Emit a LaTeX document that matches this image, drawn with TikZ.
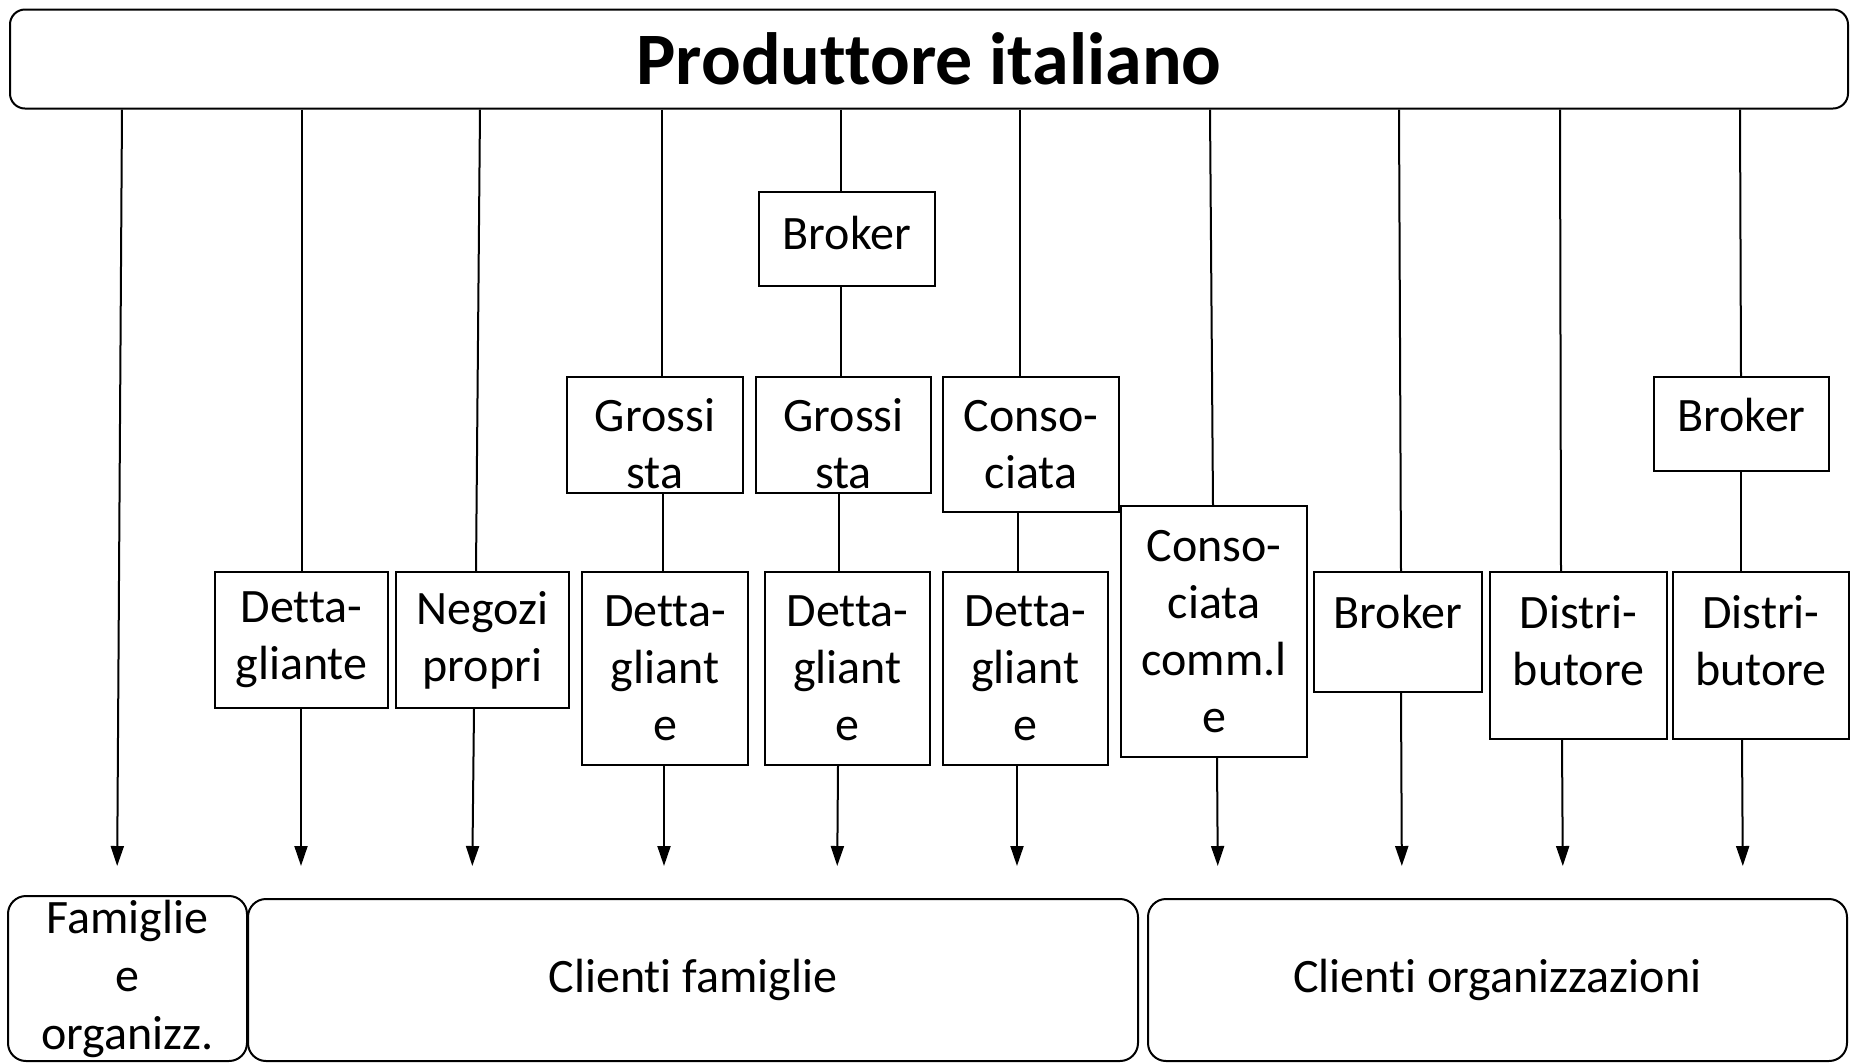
\documentclass[tikz,border=0pt]{standalone}
\usepackage{fontspec}
\setmainfont{Carlito}[Ligatures={NoCommon,NoContextual},RawFeature={-liga;-calt;-dlig}]
\usetikzlibrary{arrows.meta}

\begin{document}
\begin{tikzpicture}[x=0.5pt,y=-0.5pt]
\tikzstyle canale=[draw,line width=1pt,rectangle,inner sep=0pt,align=center,font=\fontsize{24}{28.5}\selectfont]
\tikzstyle cliente=[canale,rounded corners=9pt]
\tikzstyle filo=[line width=1pt]
\tikzstyle freccia=[filo,-{Triangle[length=10pt,width=6.5pt]},shorten >=16pt]
\fill[white] (0,0) rectangle (1860,1062);
% produttore
\node[canale,rounded corners=7.5pt,minimum width=919pt,minimum height=49.5pt,font=\fontsize{37}{44}\selectfont\bfseries] (prod) at (929,59) {Produttore italiano};
% clienti
\node[cliente,minimum width=119.5pt,minimum height=82.5pt,font=\fontsize{24}{29}\selectfont] (fam) at (127.5,978.5) {Famiglie\\e\\organizz.};
\node[cliente,minimum width=445pt,minimum height=81pt] (cfam) at (693,980) {Clienti famiglie};
\node[cliente,minimum width=349.5pt,minimum height=81pt] (corg) at (1497.5,980) {Clienti organizzazioni};
% intermediari
\node[canale,minimum width=86.5pt,minimum height=68pt] (dett2) at (301.5,640) {Detta-\\gliante};
\node[canale,minimum width=86.5pt,minimum height=68pt] (neg) at (482.5,640) {Negozi\\propri};
\node[canale,minimum width=88pt,minimum height=58pt,text height=54pt] (gros4) at (655,435) {Grossi\\sta};
\node[canale,minimum width=83pt,minimum height=96.5pt] (dett4) at (665,668.5) {Detta-\\gliant\\e};
\node[canale,minimum width=88pt,minimum height=47pt,text depth=6pt] (brok5) at (847,239) {Broker};
\node[canale,minimum width=87.5pt,minimum height=58pt,text height=54pt] (gros5) at (843.5,435) {Grossi\\sta};
\node[canale,minimum width=82.5pt,minimum height=96.5pt] (dett5) at (847.5,668.5) {Detta-\\gliant\\e};
\node[canale,minimum width=88pt,minimum height=67.5pt] (cons6) at (1031,444.5) {Conso-\\ciata};
\node[canale,minimum width=82.5pt,minimum height=96.5pt] (dett6) at (1025.5,668.5) {Detta-\\gliant\\e};
\node[canale,minimum width=93pt,minimum height=125.5pt] (cons7) at (1214,631.5) {Conso-\\ciata\\comm.l\\e};
\node[canale,minimum width=84pt,minimum height=60pt,text depth=20pt] (brok8) at (1398,632) {Broker};
\node[canale,minimum width=88.5pt,minimum height=83.5pt,text depth=15pt] (dist9) at (1578.5,655.5) {Distri-\\butore};
\node[canale,minimum width=87.5pt,minimum height=47pt,text depth=9pt] (brok10) at (1741.5,424) {Broker};
\node[canale,minimum width=88pt,minimum height=83.5pt,text depth=15pt] (dist10) at (1761,655.5) {Distri-\\butore};
% canali
\draw[freccia,shorten >=14.5pt] (prod.south -| 122,0) -- (fam.north -| 117,0);
\draw[filo] (prod.south -| 302,0) -- (dett2.north -| 302,0);
\draw[freccia] (dett2.south -| 301,0) -- (cfam.north -| 301,0);
\draw[filo] (prod.south -| 480,0) -- (neg.north -| 476,0);
\draw[freccia] (neg.south -| 474,0) -- (cfam.north -| 472,0);
\draw[filo] (prod.south -| 662,0) -- (gros4.north -| 662,0);
\draw[filo] (gros4.south -| 663,0) -- (dett4.north -| 663,0);
\draw[freccia] (dett4.south -| 664,0) -- (cfam.north -| 664,0);
\draw[filo] (prod.south -| 841,0) -- (brok5.north -| 841,0);
\draw[filo] (brok5.south -| 841,0) -- (gros5.north -| 841,0);
\draw[filo] (gros5.south -| 839,0) -- (dett5.north -| 839,0);
\draw[freccia] (dett5.south -| 838,0) -- (cfam.north -| 837,0);
\draw[filo] (prod.south -| 1020,0) -- (cons6.north -| 1020,0);
\draw[filo] (cons6.south -| 1018,0) -- (dett6.north -| 1018,0);
\draw[freccia] (dett6.south -| 1017,0) -- (cfam.north -| 1017,0);
\draw[filo] (prod.south -| 1210,0) -- (cons7.north -| 1213,0);
\draw[freccia] (cons7.south -| 1217,0) -- (corg.north -| 1218,0);
\draw[filo] (prod.south -| 1399,0) -- (brok8.north -| 1401,0);
\draw[freccia] (brok8.south -| 1401,0) -- (corg.north -| 1402,0);
\draw[filo] (prod.south -| 1560,0) -- (dist9.north -| 1561,0);
\draw[freccia] (dist9.south -| 1562,0) -- (corg.north -| 1563,0);
\draw[filo] (prod.south -| 1740,0) -- (brok10.north -| 1741,0);
\draw[filo] (brok10.south -| 1741,0) -- (dist10.north -| 1741,0);
\draw[freccia] (dist10.south -| 1742,0) -- (corg.north -| 1743,0);
%\draw[freccia] (dist10.south) -- (corg.north -| dist10.south);
\end{tikzpicture}
\end{document}
